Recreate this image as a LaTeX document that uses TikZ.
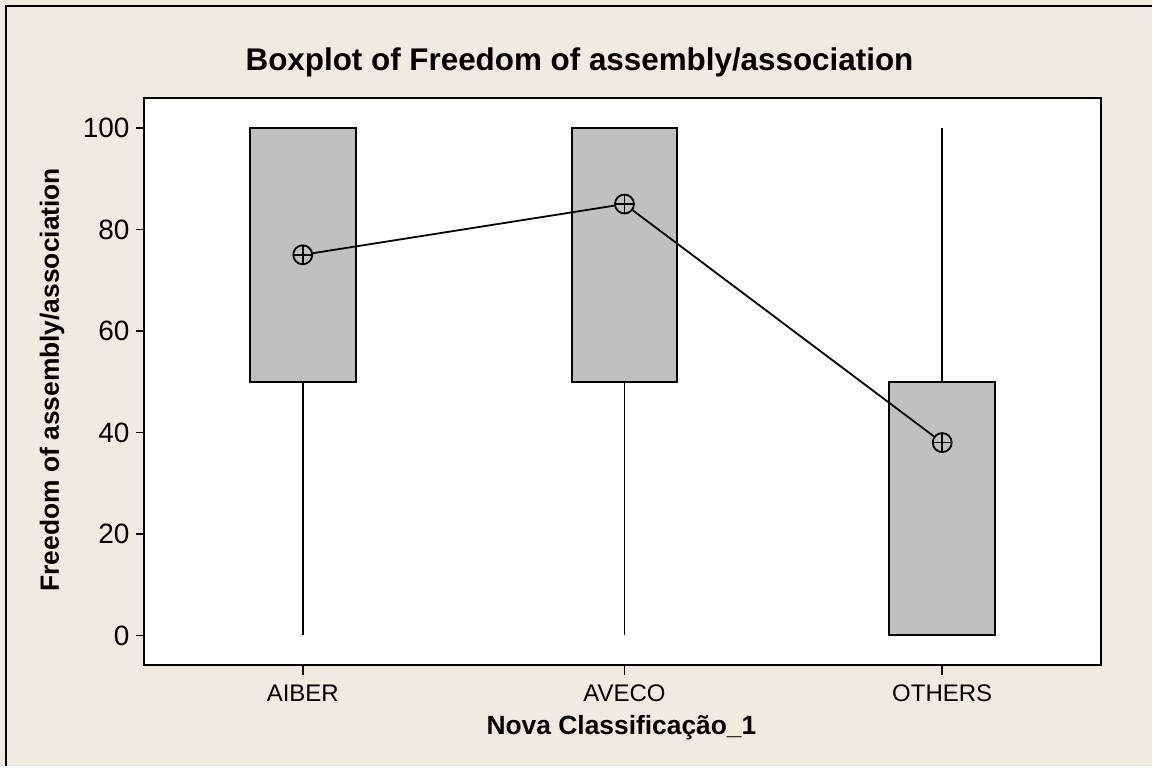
\documentclass[tikz,border=0pt]{standalone}
\usepackage{fontspec}
\setmainfont{Liberation Sans}
\definecolor{panel}{RGB}{239,235,225}
\definecolor{boxgray}{RGB}{192,192,192}

\begin{document}
\begin{tikzpicture}[x=0.5pt,y=-0.5pt,
every node/.style={font=\fontsize{12}{15}\selectfont, inner sep=0pt},
ticklab/.style={font=\fontsize{14}{16}\selectfont},
heading/.style={font=\fontsize{15.7}{18}\selectfont\bfseries},
axtitle/.style={font=\fontsize{13.2}{15}\selectfont\bfseries},
quart/.style={draw, fill=boxgray, line width=1pt},
whisk/.style={line width=0.9pt},
meanpt/.style={circle, draw, fill=boxgray, line width=0.9pt, minimum size=9.5pt,
    path picture={\draw[line width=0.9pt]
    (path picture bounding box.north) -- (path picture bounding box.south)
    (path picture bounding box.west) -- (path picture bounding box.east);}}]
% panel and frame
\fill[panel] (0,0) rectangle (1153,767);
\draw[line width=1pt] (6,767) -- (6,6) -- (1153,6);
\draw[fill=white, line width=1pt] (144,98) rectangle (1102,666);
\node[heading] (title) at (580,62) {Boxplot of Freedom of assembly/association};
\node[axtitle, rotate=90] (ytitle) at (52,380) {Freedom of assembly/association};
\node[axtitle] (xtitle) at (622,728) {Nova Classificação\_1};
% categories
\foreach \x/\lab/\nm in {303/AIBER/aiber, 625/AVECO/aveco, 943/OTHERS/others}{
  \draw[line width=0.9pt] (\x,666) -- (\x,676);
  \node (\nm) at (\x,694) {\lab};
}
\begin{scope}[shift={(0,636)}, y=2.54pt]
\foreach \v in {0,20,...,100}{
  \draw[line width=0.9pt] (136,\v) -- (144,\v);
  \node[ticklab, anchor=east] (tick\v) at (130,\v) {\v};
}
% whiskers
\draw[whisk] (303,0) -- (303,50);
\draw[whisk] (625,0) -- (625,50);
\draw[whisk] (943,50) -- (943,100);
% boxes
\draw[quart] (250,50) rectangle (356,100);
\draw[quart] (572,50) rectangle (678,100);
\draw[quart] (890,0) rectangle (996,50);
% means
\node[meanpt] (m1) at (303,75) {};
\node[meanpt] (m2) at (625,85) {};
\node[meanpt] (m3) at (943,38) {};
\draw[line width=0.9pt] (m1) -- (m2) -- (m3);
\end{scope}
\end{tikzpicture}
\end{document}
